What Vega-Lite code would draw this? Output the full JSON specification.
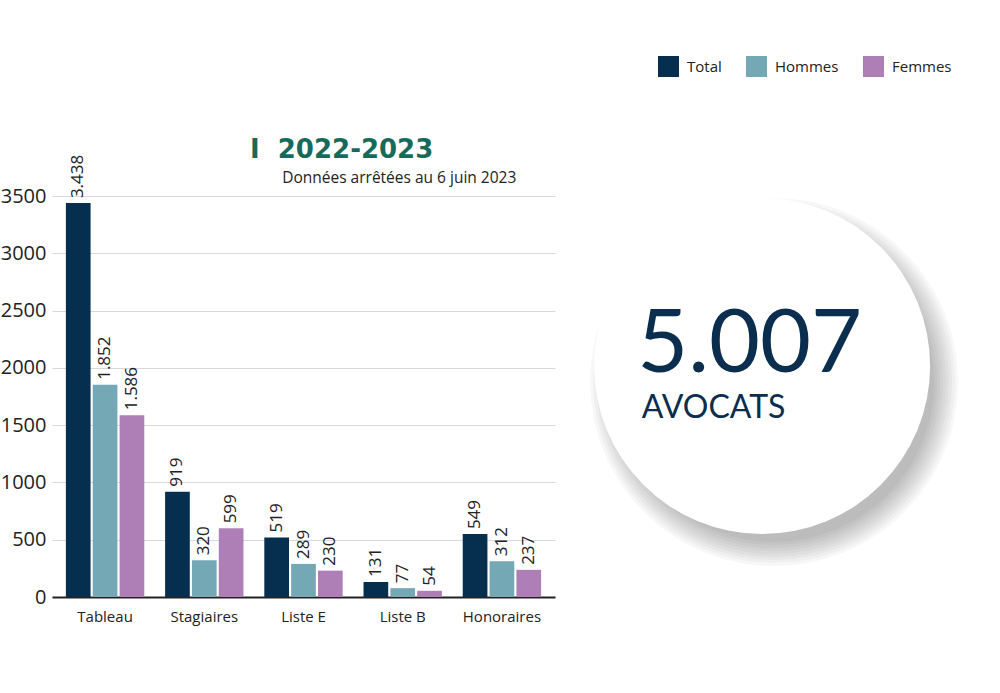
{
  "$schema": "https://vega.github.io/schema/vega-lite/v6.json",
  "background": "white",
  "padding": {"left": 0, "top": 56, "right": 0, "bottom": 60},
  "spacing": 18,
  "config": {
    "locale": {"number": {"decimal": ",", "thousands": ".", "grouping": [3], "currency": ["", " €"]}},
    "view": {"stroke": null},
    "font": "Open Sans"
  },
  "datasets": {
    "effectifs": [
      {"categorie": "Tableau", "groupe": "Total", "valeur": 3438},
      {"categorie": "Tableau", "groupe": "Hommes", "valeur": 1852},
      {"categorie": "Tableau", "groupe": "Femmes", "valeur": 1586},
      {"categorie": "Stagiaires", "groupe": "Total", "valeur": 919},
      {"categorie": "Stagiaires", "groupe": "Hommes", "valeur": 320},
      {"categorie": "Stagiaires", "groupe": "Femmes", "valeur": 599},
      {"categorie": "Liste E", "groupe": "Total", "valeur": 519},
      {"categorie": "Liste E", "groupe": "Hommes", "valeur": 289},
      {"categorie": "Liste E", "groupe": "Femmes", "valeur": 230},
      {"categorie": "Liste B", "groupe": "Total", "valeur": 131},
      {"categorie": "Liste B", "groupe": "Hommes", "valeur": 77},
      {"categorie": "Liste B", "groupe": "Femmes", "valeur": 54},
      {"categorie": "Honoraires", "groupe": "Total", "valeur": 549},
      {"categorie": "Honoraires", "groupe": "Hommes", "valeur": 312},
      {"categorie": "Honoraires", "groupe": "Femmes", "valeur": 237}
    ]
  },
  "hconcat": [
    {
      "width": 503,
      "height": 401,
      "data": {"name": "effectifs"},
      "title": {
        "text": "I\u00a0\u00a02022-2023",
        "subtitle": "\u200b\u00a0\u00a0\u00a0\u00a0\u00a0\u00a0\u00a0\u00a0Données arrêtées au 6 juin 2023",
        "anchor": "start",
        "frame": "group",
        "dx": 198,
        "font": "DejaVu Sans",
        "fontWeight": "bold",
        "fontSize": 26,
        "color": "#176a5a",
        "subtitleFont": "Open Sans",
        "subtitleFontSize": 15.5,
        "subtitleColor": "#222222",
        "subtitlePadding": 8,
        "offset": -32
      },
      "encoding": {
        "x": {
          "field": "categorie",
          "type": "nominal",
          "sort": ["Tableau", "Stagiaires", "Liste E", "Liste B", "Honoraires"],
          "scale": {"paddingInner": 0.21, "paddingOuter": 0.14},
          "axis": {
            "title": null,
            "labelAngle": 0,
            "labelFontSize": 15,
            "labelColor": "#222222",
            "domainColor": "#222222",
            "domainWidth": 2,
            "ticks": false,
            "labelPadding": 12
          }
        },
        "xOffset": {
          "field": "groupe",
          "type": "nominal",
          "sort": ["Total", "Hommes", "Femmes"],
          "scale": {"paddingInner": 0.08}
        },
        "y": {
          "field": "valeur",
          "type": "quantitative",
          "scale": {"domain": [0, 3500], "nice": false},
          "axis": {
            "title": null,
            "values": [0, 500, 1000, 1500, 2000, 2500, 3000, 3500],
            "format": "d",
            "domain": false,
            "ticks": false,
            "labelFontSize": 20,
            "labelColor": "#222222",
            "labelPadding": 6,
            "gridColor": "#d9d9d9",
            "gridWidth": 1
          }
        }
      },
      "layer": [
        {
          "mark": {"type": "bar"},
          "encoding": {
            "color": {
              "field": "groupe",
              "type": "nominal",
              "sort": ["Total", "Hommes", "Femmes"],
              "scale": {"domain": ["Total", "Hommes", "Femmes"], "range": ["#062e4f", "#73a8b4", "#ae7fb7"]},
              "legend": {
                "orient": "none",
                "legendX": 606,
                "legendY": -140,
                "direction": "horizontal",
                "title": null,
                "symbolType": "square",
                "symbolSize": 441,
                "symbolStrokeWidth": 0,
                "symbolOpacity": 1,
                "labelFontSize": 15,
                "labelColor": "#222222",
                "labelOffset": 8,
                "columnPadding": 24
              }
            }
          }
        },
        {
          "mark": {"type": "text", "angle": 270, "align": "left", "baseline": "middle", "dx": 5, "fontSize": 17, "color": "#222222"},
          "encoding": {
            "text": {"field": "valeur", "type": "quantitative", "format": ",d"}
          }
        }
      ]
    },
    {
      "width": 425,
      "height": 401,
      "data": {"values": [{}]},
      "encoding": {
        "x": {"datum": 0.445, "type": "quantitative", "scale": {"domain": [0, 1]}, "axis": null},
        "y": {"datum": 0.576, "type": "quantitative", "scale": {"domain": [0, 1]}, "axis": null}
      },
      "layer": [
        {"mark": {"type": "point", "shape": "circle", "filled": true, "color": "#000000", "opacity": 0.03, "size": 135424, "xOffset": 12, "yOffset": 16}},
        {"mark": {"type": "point", "shape": "circle", "filled": true, "color": "#000000", "opacity": 0.03, "size": 131044, "xOffset": 12, "yOffset": 16}},
        {"mark": {"type": "point", "shape": "circle", "filled": true, "color": "#000000", "opacity": 0.03, "size": 126736, "xOffset": 12, "yOffset": 16}},
        {"mark": {"type": "point", "shape": "circle", "filled": true, "color": "#000000", "opacity": 0.03, "size": 122500, "xOffset": 12, "yOffset": 16}},
        {"mark": {"type": "point", "shape": "circle", "filled": true, "color": "#000000", "opacity": 0.03, "size": 118336, "xOffset": 12, "yOffset": 16}},
        {"mark": {"type": "point", "shape": "circle", "filled": true, "color": "#000000", "opacity": 0.03, "size": 114244, "xOffset": 12, "yOffset": 16}},
        {"mark": {"type": "point", "shape": "circle", "filled": true, "color": "#000000", "opacity": 0.03, "size": 110224, "xOffset": 12, "yOffset": 16}},
        {"mark": {"type": "point", "shape": "circle", "filled": true, "color": "#000000", "opacity": 0.03, "size": 106276, "xOffset": 12, "yOffset": 16}},
        {"mark": {"type": "point", "shape": "circle", "filled": true, "color": "#000000", "opacity": 0.03, "size": 102400, "xOffset": 12, "yOffset": 16}},
        {"mark": {"type": "point", "shape": "circle", "filled": true, "color": "#ffffff", "opacity": 1, "size": 112896}},
        {
          "mark": {"type": "text", "text": "5.007", "align": "left", "baseline": "alphabetic", "font": "Lato", "fontSize": 88, "color": "#0b2d4e"},
          "encoding": {
            "x": {"datum": 0.151, "type": "quantitative"},
            "y": {"datum": 0.561, "type": "quantitative"}
          }
        },
        {
          "mark": {"type": "text", "text": "AVOCATS", "align": "left", "baseline": "alphabetic", "font": "Lato", "fontSize": 32, "color": "#0b2d4e"},
          "encoding": {
            "x": {"datum": 0.162, "type": "quantitative"},
            "y": {"datum": 0.447, "type": "quantitative"}
          }
        }
      ]
    }
  ]
}
